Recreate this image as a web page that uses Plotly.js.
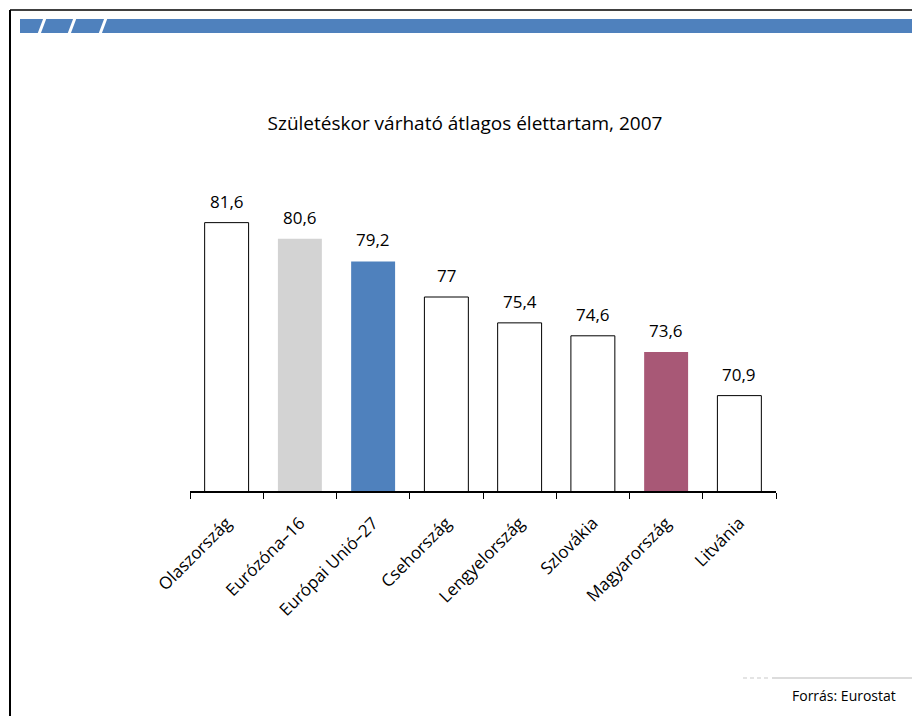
<!DOCTYPE html>
<html>
<head>
<meta charset="utf-8">
<script src="https://cdn.plot.ly/plotly-3.0.1.min.js"></script>
<style>html,body{margin:0;padding:0;background:#fff;}#chart{width:912px;height:716px;}</style>
</head>
<body>
<div id="chart"></div>
<script>
const categories = ["Olaszország", "Eurózóna–16", "Európai Unió–27", "Csehország", "Lengyelország", "Szlovákia", "Magyarország", "Litvánia"];
const values = [81.6, 80.6, 79.2, 77, 75.4, 74.6, 73.6, 70.9];
const barColors = ["#ffffff", "#d3d3d3", "#4f81bd", "#ffffff", "#ffffff", "#ffffff", "#a85876", "#ffffff"];
const outlineWidths = [1, 0, 0, 1, 1, 1, 0, 1];
const titleText = "Születéskor várható átlagos élettartam, 2007";
const sourceText = "Forrás: Eurostat";

const W = 912, H = 716;
const mL = 190, mR = W - 776, mT = 200, mB = H - 491;
const pw = W - mL - mR, ph = H - mT - mB;
const px = v => (v - mL) / pw;
const py = v => (H - mB - v) / ph;

const fmt = v => String(v).replace('.', ',');

const font = "'Open Sans', 'Noto Sans', sans-serif";

const shapes = [
  // frame
  {type:'line', xref:'paper', yref:'paper', x0:px(10), x1:px(10), y0:py(10), y1:py(716), line:{color:'#000', width:2}},
  {type:'line', xref:'paper', yref:'paper', x0:px(10), x1:px(912), y0:py(10), y1:py(10), line:{color:'#000', width:1.5}},
  // banner
  {type:'rect', xref:'paper', yref:'paper', x0:px(20), x1:px(912), y0:py(33), y1:py(19), fillcolor:'#4f81bd', line:{width:0}},
  // bottom gray line
  {type:'line', xref:'paper', yref:'paper', x0:px(772), x1:px(912), y0:py(678), y1:py(678), line:{color:'#dcdcdc', width:2}},
  {type:'line', xref:'paper', yref:'paper', x0:px(743), x1:px(770), y0:py(678), y1:py(678), line:{color:'#e4e4e4', width:2, dash:'4px,3px'}}
];
[42, 72, 103].forEach(x => {
  shapes.push({type:'line', xref:'paper', yref:'paper', x0:px(x+3), x1:px(x-3), y0:py(18), y1:py(34), line:{color:'#fff', width:3}});
});

const annotations = categories.map((c, i) => ({
  x: c, y: values[i], xref:'x', yref:'y', text: fmt(values[i]), showarrow:false,
  yanchor:'bottom', yshift: 8, font:{family:font, size:17, color:'#000'}
}));
annotations.push({xref:'paper', yref:'paper', x:px(898), y:py(695), xanchor:'right', yanchor:'middle',
  text: sourceText, showarrow:false, font:{family:font, size:14, color:'#000'}});

const trace = {
  type:'bar', x: categories, y: values, width: 0.6,
  marker:{color: barColors, line:{color:'#000', width: outlineWidths}},
  hoverinfo:'none'
};

const layout = {
  width: W, height: H,
  margin:{l:mL, r:mR, t:mT, b:mB},
  paper_bgcolor:'#fff', plot_bgcolor:'#fff',
  showlegend:false,
  title:{text:titleText, x:465/W, xanchor:'center', y:1-123/H, yanchor:'middle', font:{family:font, size:19, color:'#000'}},
  xaxis:{type:'category', showline:true, linecolor:'#000', linewidth:1.5, ticks:'outside', ticklen:6, tickcolor:'#000',
    tickson:'boundaries', tickangle:-45, ticklabelstandoff:14, tickfont:{family:font, size:17, color:'#000'}, showgrid:false, zeroline:false, fixedrange:true},
  yaxis:{range:[65, 83], visible:false, showgrid:false, zeroline:false, fixedrange:true},
  bargap: 0.4,
  shapes: shapes,
  annotations: annotations
};

Plotly.newPlot('chart', [trace], layout, {displayModeBar:false, staticPlot:true});
</script>
</body>
</html>
